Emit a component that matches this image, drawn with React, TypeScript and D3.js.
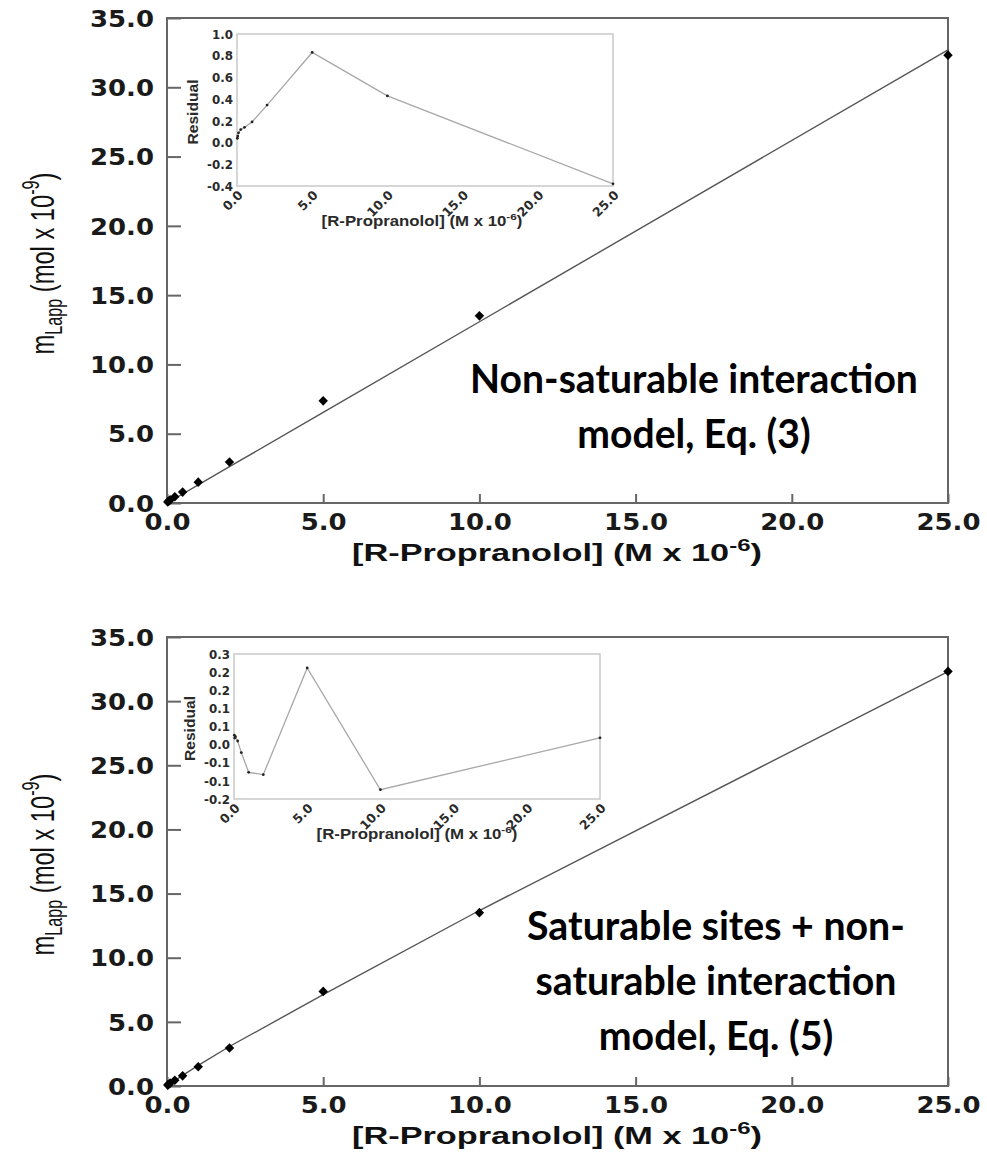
import { useEffect, useRef } from "react";
import * as d3 from "d3";

// [R-Propranolol] (M x 10^-6) and measured m_Lapp (mol x 10^-9)
const concentration = [0.025, 0.05, 0.1, 0.25, 0.5, 1, 2, 5, 10, 25];
const mLapp = [0.07, 0.13, 0.22, 0.45, 0.79, 1.5, 2.96, 7.37, 13.51, 32.32];

// fitted curves
const fitConc = [0, 0.5, 1, 2, 5, 10, 25];
const fitNonSat = [0, 0.65, 1.31, 2.62, 6.54, 13.08, 32.7];
const fitSat = [0, 0.83, 1.61, 3.08, 7.12, 13.68, 32.31];

// residuals
const residNonSat = [0.04, 0.06, 0.09, 0.12, 0.14, 0.19, 0.345, 0.83, 0.43, -0.38];
const residSat = [0.02, 0.01, 0.015, 0.0, -0.04, -0.108, -0.116, 0.252, -0.168, 0.011];

// ticks
const mainXTicks = [0, 5, 10, 15, 20, 25];
const mainYTicks = [0, 5, 10, 15, 20, 25, 30, 35];
const insetXTicks = [0, 5, 10, 15, 20, 25];
const nonSatResidTicks = [-0.4, -0.2, 0, 0.2, 0.4, 0.6, 0.8, 1.0];
const nonSatResidLabels = ["-0.4", "-0.2", "0.0", "0.2", "0.4", "0.6", "0.8", "1.0"];
const satResidTicks = [-0.2, -0.1375, -0.075, -0.0125, 0.05, 0.1125, 0.175, 0.2375, 0.3];
const satResidLabels = ["-0.2", "-0.1", "-0.1", "0.0", "0.1", "0.1", "0.2", "0.2", "0.3"];

const noteNonSat = ["Non-saturable interaction", "model, Eq. (3)"];
const noteSat = ["Saturable sites + non-", "saturable interaction", "model, Eq. (5)"];

const panels = [
  {
    left: 167, right: 948, top: 18, bottom: 503,
    fit: fitNonSat, resid: residNonSat,
    inset: { left: 237, right: 613, top: 34, bottom: 186 },
    insetDomain: [-0.4, 1.0], insetTicks: nonSatResidTicks, insetLabels: nonSatResidLabels,
    insetTitleX: 422,
    note: noteNonSat, noteX: 694, noteY: 393, noteW: 448,
  },
  {
    left: 167, right: 948, top: 637, bottom: 1086,
    fit: fitSat, resid: residSat,
    inset: { left: 234, right: 600, top: 654, bottom: 799 },
    insetDomain: [-0.2, 0.3], insetTicks: satResidTicks, insetLabels: satResidLabels,
    insetTitleX: 417,
    note: noteSat, noteX: 716, noteY: 940, noteW: 378,
  },
];

const TICK_FONT = "'DejaVu Sans', sans-serif";
const ARIAL = "'Liberation Sans', Arial, sans-serif";
const NOTE_FONT = "Lato, 'Open Sans', sans-serif";

type Part = { t: string; shift?: number; scale?: number };

function addLabel(parent: any, o: any) {
  const t = parent
    .append("text")
    .attr("text-anchor", o.anchor ?? "middle")
    .attr("font-family", o.family)
    .attr("font-size", o.size)
    .attr("font-weight", o.weight ?? "bold")
    .attr("fill", o.fill ?? "#111")
    .style("white-space", "pre");
  let prev = 0;
  (o.parts as Part[]).forEach((p) => {
    const sh = p.shift ?? 0;
    t.append("tspan")
      .attr("dy", sh - prev)
      .attr("font-size", o.size * (p.scale ?? 1))
      .text(p.t);
    prev = sh;
  });
  let s = o.stretch ?? 1;
  if (o.width) s = o.width / (t.node() as SVGTextElement).getBBox().width;
  t.attr("transform", `translate(${o.x},${o.y}) rotate(${o.rot ?? 0}) scale(${s},1)`);
  return s;
}

function measure(svg: any, str: string, size: number, family: string) {
  const t = svg.append("text").attr("font-family", family).attr("font-size", size).attr("font-weight", "bold").text(str);
  const w = (t.node() as SVGTextElement).getBBox().width;
  t.remove();
  return w;
}

function drawPanel(svg: any, p: any) {
  const x = d3.scaleLinear().domain([0, 25]).range([p.left, p.right]);
  const y = d3.scaleLinear().domain([0, 35]).range([p.bottom, p.top]);
  const mainS = 64 / measure(svg, "35.0", 23, TICK_FONT);
  const insetS = 21 / measure(svg, "1.0", 11.5, TICK_FONT);
  const insetXS = 31 / measure(svg, "25.0", 12.5, TICK_FONT);

  // main axes
  const gy = svg.append("g").attr("transform", `translate(${p.left},0)`)
    .call(d3.axisLeft(y).tickValues(mainYTicks).tickSize(-14).tickFormat(d3.format(".1f")));
  const gx = svg.append("g").attr("transform", `translate(0,${p.bottom})`)
    .call(d3.axisBottom(x).tickValues(mainXTicks).tickSize(-9).tickFormat(d3.format(".1f")));
  [gy, gx].forEach((g) => {
    g.select(".domain").remove();
    g.selectAll("line").attr("stroke", "#666").attr("stroke-width", 2);
    g.selectAll("text")
      .attr("font-family", TICK_FONT).attr("font-size", 23).attr("font-weight", "bold")
      .attr("fill", "#1a1a1a").attr("x", null).attr("y", null).attr("dy", "0.36em");
  });
  gy.selectAll("text").attr("text-anchor", "end").attr("transform", `translate(-13,0) scale(${mainS},1)`);
  gx.selectAll("text").attr("text-anchor", "middle").attr("transform", `translate(0,19) scale(${mainS},1)`);

  svg.append("rect")
    .attr("x", p.left).attr("y", p.top)
    .attr("width", p.right - p.left).attr("height", p.bottom - p.top)
    .attr("fill", "none").attr("stroke", "#666").attr("stroke-width", 2);

  // fitted line
  const line = d3.line<number>().x((_, i) => x(fitConc[i])).y((d) => y(d));
  svg.append("path").datum(p.fit).attr("d", line)
    .attr("fill", "none").attr("stroke", "#555").attr("stroke-width", 1.4);

  // data points
  svg.append("g").selectAll("path").data(mLapp).join("path")
    .attr("d", d3.symbol(d3.symbolDiamond, 30)())
    .attr("transform", (d: number, i: number) => `translate(${x(concentration[i])},${y(d)}) scale(1.6,0.95)`)
    .attr("fill", "#000");

  // axis titles
  addLabel(svg, {
    x: 54, y: (p.top + p.bottom) / 2 + 3, rot: -90, family: ARIAL, size: 34, weight: "normal", width: 182,
    parts: [{ t: "m" }, { t: "Lapp", shift: 8, scale: 0.68 }, { t: " (mol x 10" }, { t: "-9", shift: -15, scale: 0.68 }, { t: ")" }],
  });
  addLabel(svg, {
    x: 557, y: p.bottom + 58, family: ARIAL, size: 23, width: 410,
    parts: [{ t: "[R-Propranolol] (M x 10" }, { t: "-6", shift: -10, scale: 0.7 }, { t: ")" }],
  });

  // annotation
  let noteS = 1;
  (p.note as string[]).forEach((str, i) => {
    if (i === 0) {
      noteS = addLabel(svg, { x: p.noteX, y: p.noteY, family: NOTE_FONT, size: 40, width: p.noteW, fill: "#000", parts: [{ t: str }] });
    } else {
      addLabel(svg, { x: p.noteX, y: p.noteY + i * 55, family: NOTE_FONT, size: 40, stretch: noteS, fill: "#000", parts: [{ t: str }] });
    }
  });

  // residual inset
  const b = p.inset;
  const xi = d3.scaleLinear().domain([0, 25]).range([b.left, b.right]);
  const yi = d3.scaleLinear().domain(p.insetDomain).range([b.bottom, b.top]);
  svg.append("rect")
    .attr("x", b.left).attr("y", b.top).attr("width", b.right - b.left).attr("height", b.bottom - b.top)
    .attr("fill", "#fff").attr("stroke", "#c9c9c9").attr("stroke-width", 1.5);

  const giy = svg.append("g").attr("transform", `translate(${b.left},0)`)
    .call(d3.axisLeft(yi).tickValues(p.insetTicks).tickSize(0).tickFormat((_: any, i: number) => p.insetLabels[i]));
  const gix = svg.append("g").attr("transform", `translate(0,${b.bottom})`)
    .call(d3.axisBottom(xi).tickValues(insetXTicks).tickSize(0).tickFormat(d3.format(".1f")));
  [giy, gix].forEach((g) => {
    g.select(".domain").remove();
    g.selectAll("text")
      .attr("font-family", TICK_FONT).attr("font-size", 11.5).attr("font-weight", "bold")
      .attr("fill", "#2a2a2a").attr("x", null).attr("y", null).attr("dy", "0.36em");
  });
  giy.selectAll("text").attr("text-anchor", "end").attr("transform", `translate(-4,0) scale(${insetS},1)`);
  gix.selectAll("text").attr("text-anchor", "end").attr("dy", null).attr("font-size", 12.5)
    .attr("transform", `translate(6,10) rotate(-45) scale(${insetXS},1)`);

  const rline = d3.line<number>().x((_, i) => xi(concentration[i])).y((d) => yi(d));
  svg.append("path").datum(p.resid).attr("d", rline)
    .attr("fill", "none").attr("stroke", "#a8a8a8").attr("stroke-width", 1.3);
  svg.append("g").selectAll("circle").data(p.resid).join("circle")
    .attr("cx", (_: number, i: number) => xi(concentration[i])).attr("cy", (d: number) => yi(d))
    .attr("r", 1.4).attr("fill", "#222");

  addLabel(svg, {
    x: b.left - 39, y: (b.top + b.bottom) / 2 + 2, rot: -90, family: ARIAL, size: 15, width: 65, fill: "#2a2a2a",
    parts: [{ t: "Residual" }],
  });
  addLabel(svg, {
    x: p.insetTitleX, y: b.bottom + 40, family: ARIAL, size: 14, width: 201, fill: "#2a2a2a",
    parts: [{ t: "[R-Propranolol] (M x 10" }, { t: "-6", shift: -6, scale: 0.7 }, { t: ")" }],
  });
}

export default function App() {
  const ref = useRef<SVGSVGElement>(null);

  useEffect(() => {
    const svg = d3.select(ref.current);
    svg.selectAll("*").remove();
    panels.forEach((p) => drawPanel(svg, p));
  }, []);

  return (
    <svg
      ref={ref}
      width={987}
      height={1152}
      style={{ position: "absolute", left: 0, top: 0, background: "#fff" }}
    />
  );
}
